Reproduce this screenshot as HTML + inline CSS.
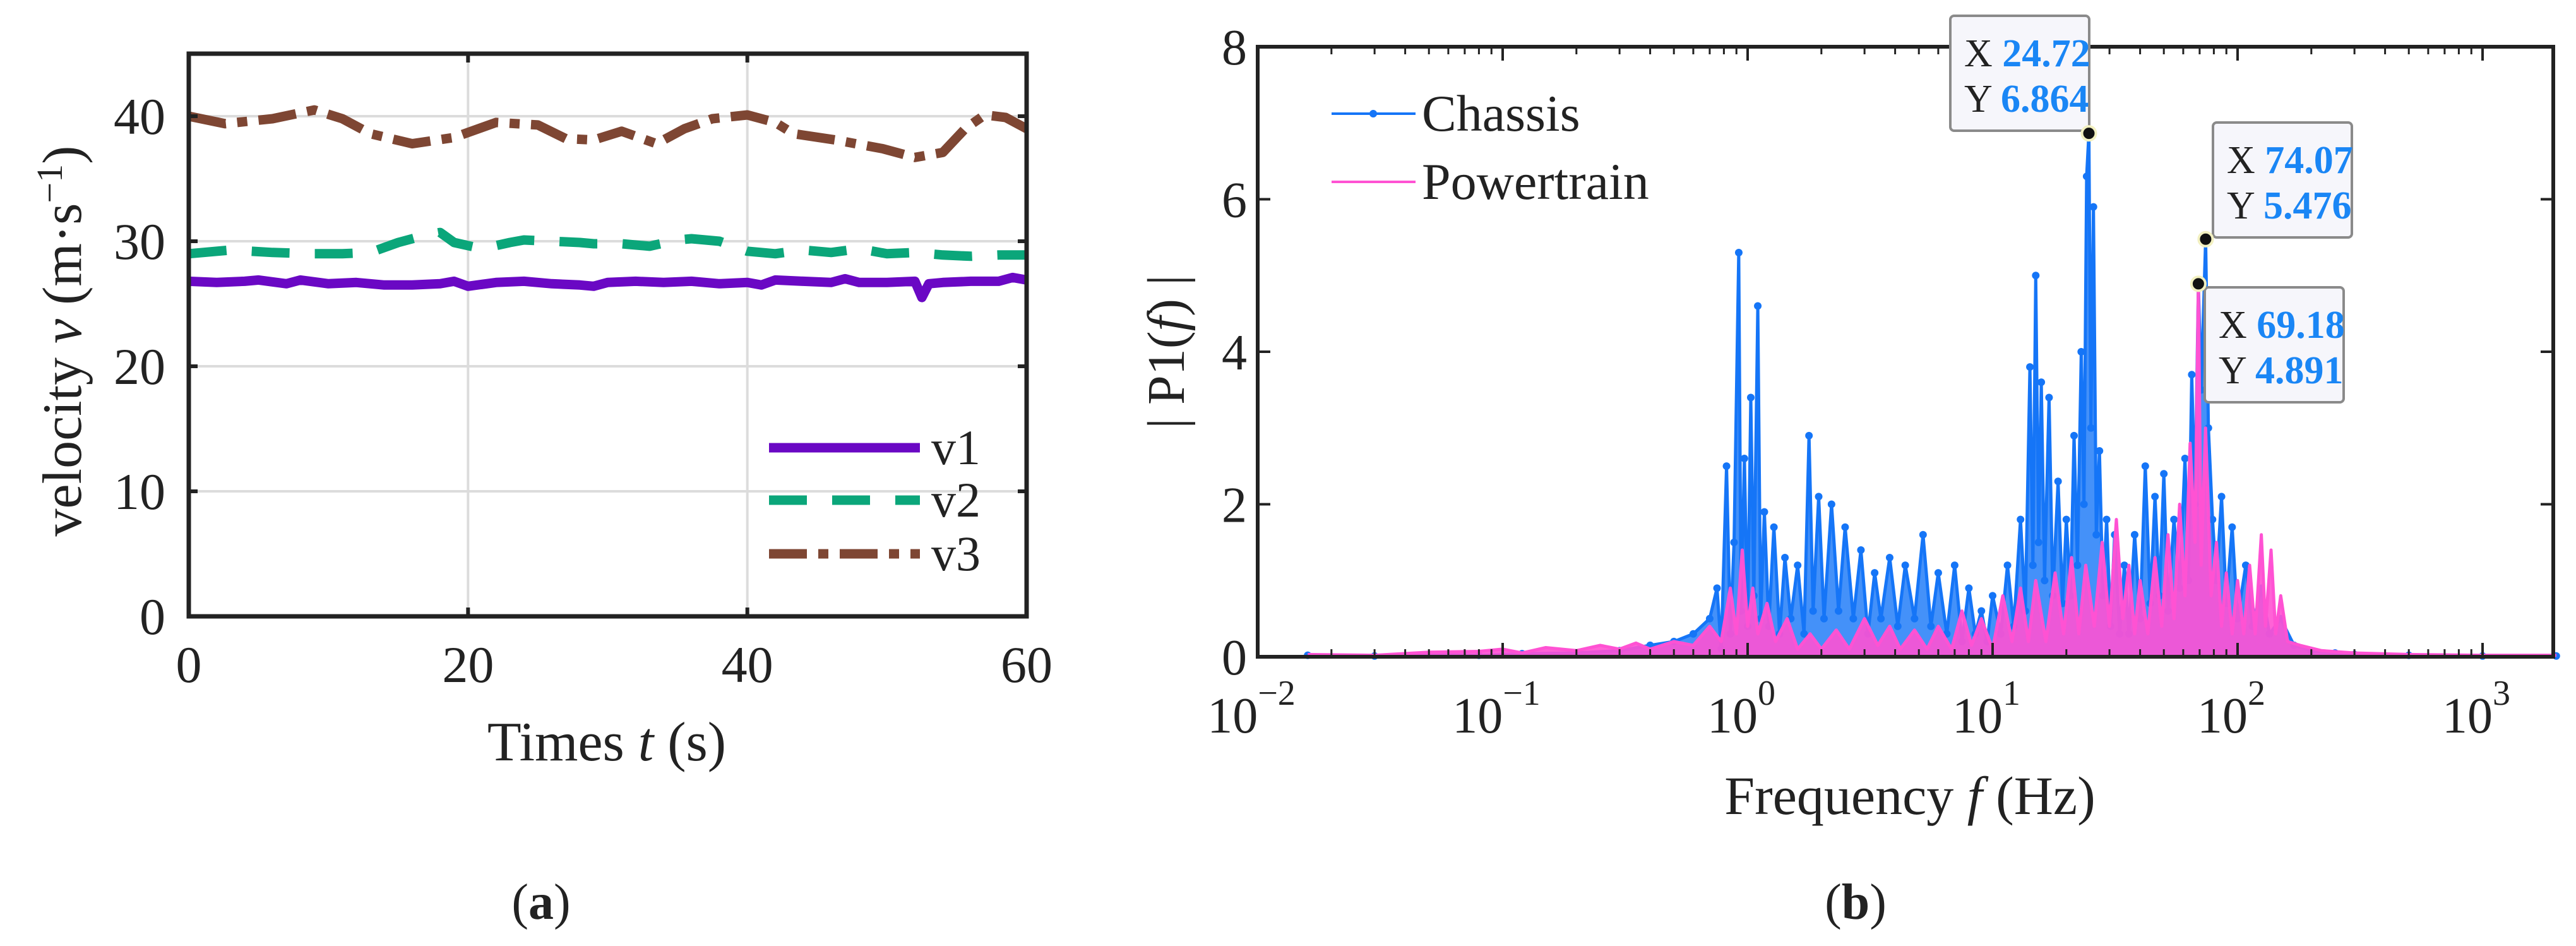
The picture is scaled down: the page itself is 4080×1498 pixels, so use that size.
<!DOCTYPE html>
<html><head><meta charset="utf-8"><style>
html,body{margin:0;padding:0;background:#fff;}
svg{display:block;font-family:"Liberation Serif",serif;}
</style></head><body>
<svg id="fig" width="4080" height="1498" viewBox="0 0 4080 1498" xmlns="http://www.w3.org/2000/svg">
<rect x="0" y="0" width="4080" height="1498" fill="#fff"/>
<g id="pa"></g>
<g id="pb"></g>
</svg>
<script>
// ---- panel (a) data ----
const vTicks = [0, 10, 20, 30, 40];
const tTicks = [0, 20, 40, 60];
const v1T = [0,2,4,5,7,8,10,12,14,16,18,19,20,22,24,26,28,29,30,32,34,36,38,40,41,42,44,46,47,48,50,52,52.5,53,54,56,58,59,60];
const v1V = [26.8,26.7,26.8,26.9,26.6,26.9,26.6,26.7,26.5,26.5,26.6,26.8,26.4,26.7,26.8,26.6,26.5,26.4,26.7,26.8,26.7,26.8,26.6,26.7,26.5,26.9,26.8,26.7,27.0,26.7,26.7,26.8,25.5,26.6,26.7,26.8,26.8,27.1,26.9];
const v2T = [0,3,6,9,11,13,15,17,18,19,21,23,24,26,28,29,31,33,35,36,38,40,42,44,46,48,50,52,54,56,58,60];
const v2V = [29.0,29.3,29.1,29.0,29.0,29.1,29.9,30.5,30.7,29.9,29.4,29.9,30.1,30.0,29.9,29.8,29.8,29.6,30.1,30.2,30.0,29.2,29.0,29.3,29.1,29.4,29.0,29.1,28.9,28.8,28.9,28.9];
const v3T = [0,2.6,6,9,11,13,16,19,22,25,27,29,31,33.5,35.5,37.5,40,42,43.3,46.3,49.7,52,54,55.6,57,58.5,60];
const v3V = [40.0,39.4,39.8,40.5,39.8,38.6,37.8,38.3,39.5,39.3,38.2,38.1,38.8,37.8,39.0,39.8,40.1,39.5,38.6,38.1,37.4,36.7,37.1,39.0,40.1,39.9,39.0];
// ---- panel (b) data ----
const fTickExp = [-2, -1, 0, 1, 2, 3];
const pTicks = [0, 2, 4, 6, 8];
const chF = [0.016,0.03,0.05,0.08,0.12,0.2,0.3,0.4,0.5,0.6,0.7,0.75,0.78,0.82,0.85,0.88,0.92,0.94,0.97,1.0,1.03,1.06,1.1,1.13,1.17,1.22,1.28,1.35,1.42,1.5,1.6,1.7,1.78,1.85,1.95,2.05,2.2,2.35,2.5,2.7,2.9,3.1,3.3,3.5,3.8,4.1,4.4,4.8,5.2,5.6,6.0,6.5,7.0,7.5,8.0,8.5,9.0,9.5,10,10.8,11.5,12.2,13,13.6,14.2,14.6,15.0,15.4,15.8,16.3,17,17.6,18.5,19.3,20,20.8,21.5,22.2,23,23.6,24.2,24.72,25.2,25.8,26.5,27.3,28.2,29.2,30.3,31.5,33,34.5,36,38,40,42,44,46,48,50,52,55,58,61,63,65,67,69.18,71,74.07,76,79,82,86,90,95,100,108,115,125,135,150,170,200,250,300,500,1000,2000];
const chA = [0.02,0.01,0.03,0.02,0.04,0.05,0.08,0.15,0.2,0.3,0.5,0.9,0.1,2.5,0.3,1.5,5.3,0.6,2.6,0.4,3.4,0.8,4.6,0.5,1.9,0.4,1.7,0.3,1.3,0.5,1.2,0.3,2.9,0.6,2.1,0.5,2.0,0.6,1.7,0.5,1.4,0.3,1.1,0.5,1.3,0.4,1.2,0.5,1.6,0.4,1.1,0.3,1.2,0.2,0.9,0.3,0.6,0.2,0.8,0.3,1.2,0.4,1.8,0.6,3.8,1.2,5.0,1.5,3.6,1.0,3.4,0.8,2.3,0.7,1.8,0.8,2.9,1.2,4.0,2.0,6.3,6.864,3.0,5.9,1.6,2.7,0.8,1.8,0.4,1.6,0.3,1.2,0.3,1.6,0.5,2.5,0.7,2.1,0.8,2.4,0.6,1.8,0.9,2.6,1.0,3.7,2.0,4.891,3.5,5.476,3.0,1.8,1.0,2.1,0.7,1.7,0.5,1.2,0.4,0.9,0.3,0.5,0.15,0.08,0.05,0.03,0.02,0.01,0.01];
const ptF = [0.016,0.03,0.05,0.08,0.1,0.12,0.15,0.2,0.25,0.3,0.35,0.4,0.5,0.6,0.7,0.78,0.85,0.9,0.95,1.0,1.05,1.1,1.2,1.3,1.45,1.6,1.8,2.0,2.3,2.6,3.0,3.4,3.8,4.2,4.8,5.4,6.0,6.8,7.5,8.2,9,10,11,12,13,14,15,16.5,18,19.5,21,22.5,24,26,28,30,32,34,36,38,40,43,46,49,52,55,58,61,64,67,69.18,71,74,78,82,86,90,95,100,106,112,118,125,130,137,143,150,160,180,220,300,500,1000,2000];
const ptA = [0.03,0.02,0.06,0.07,0.1,0.05,0.12,0.08,0.15,0.1,0.18,0.1,0.2,0.15,0.4,0.2,0.9,0.3,1.4,0.4,0.9,0.3,0.7,0.2,0.5,0.1,0.3,0.1,0.35,0.1,0.5,0.15,0.4,0.1,0.35,0.1,0.4,0.1,0.6,0.15,0.5,0.1,0.8,0.2,0.9,0.2,1.0,0.2,1.1,0.3,1.3,0.3,1.2,0.4,1.5,0.4,1.8,0.5,1.2,0.3,1.0,0.3,1.3,0.4,1.6,0.5,2.0,0.8,2.8,1.5,4.891,1.2,3.0,0.8,1.5,0.4,1.1,0.3,1.0,0.3,1.2,0.3,1.6,0.4,1.4,0.3,0.8,0.2,0.15,0.08,0.05,0.03,0.02,0.02];

const NS = "http://www.w3.org/2000/svg";
function mk(parent, tag, attrs, text) {
  const el = document.createElementNS(NS, tag);
  for (const k in attrs) el.setAttribute(k, attrs[k]);
  if (text !== undefined) el.textContent = text;
  parent.appendChild(el);
  return el;
}
const INK = "#222";

// ================= Panel (a) =================
const pa = document.getElementById("pa");
const aL = 299, aR = 1626, aT = 85, aB = 976;
const ax = t => aL + (t - 0) / 60 * (aR - aL);
const ay = v => aB - v / 45 * (aB - aT);
tTicks.forEach(t => {
  if (t > 0 && t < 60) {
    const g = mk(pa, "line", {x1: ax(t), x2: ax(t), y1: aT, y2: aB, stroke: "#dcdcdc", "stroke-width": 4});
    
    
  }
});
vTicks.forEach(v => {
  if (v > 0) {
    const g = mk(pa, "line", {x1: aL, x2: aR, y1: ay(v), y2: ay(v), stroke: "#dcdcdc", "stroke-width": 4});
    
    
  }
});
function seriesPath(ts, vs) {
  return ts.map((t, i) => (i ? "L" : "M") + ax(t).toFixed(1) + " " + ay(vs[i]).toFixed(1)).join(" ");
}
const s3 = mk(pa, "path", {d: seriesPath(v3T, v3V), fill: "none", stroke: "#7e4633", "stroke-width": 15, "stroke-dasharray": "60 18 16 18", "stroke-linejoin": "round"});


const s2 = mk(pa, "path", {d: seriesPath(v2T, v2V), fill: "none", stroke: "#0ba67a", "stroke-width": 15, "stroke-dasharray": "60 40", "stroke-linejoin": "round"});


const s1 = mk(pa, "path", {d: seriesPath(v1T, v1V), fill: "none", stroke: "#6a08c4", "stroke-width": 15, "stroke-linejoin": "round"});


const fa = mk(pa, "rect", {x: aL, y: aT, width: aR - aL, height: aB - aT, fill: "none", stroke: INK, "stroke-width": 7});


tTicks.forEach(t => {
  mk(pa, "line", {x1: ax(t), x2: ax(t), y1: aB, y2: aB - 14, stroke: INK, "stroke-width": 6});
  mk(pa, "line", {x1: ax(t), x2: ax(t), y1: aT, y2: aT + 14, stroke: INK, "stroke-width": 6});
  const l = mk(pa, "text", {x: ax(t), y: 1080, "text-anchor": "middle", "font-size": 82, fill: INK}, String(t));
  
  
});
vTicks.forEach(v => {
  mk(pa, "line", {x1: aL, x2: aL + 14, y1: ay(v), y2: ay(v), stroke: INK, "stroke-width": 6});
  mk(pa, "line", {x1: aR, x2: aR - 14, y1: ay(v), y2: ay(v), stroke: INK, "stroke-width": 6});
  const l = mk(pa, "text", {x: 262, y: ay(v) + 28, "text-anchor": "end", "font-size": 82, fill: INK}, String(v));
  
  
});
const xta = mk(pa, "text", {x: 961, y: 1204, "text-anchor": "middle", "font-size": 88, fill: INK});


xta.innerHTML = 'Times <tspan font-style="italic">t</tspan> (s)';
const yta = mk(pa, "text", {x: 0, y: 0, transform: "translate(128,540) rotate(-90)", "text-anchor": "middle", "font-size": 88, fill: INK});


yta.innerHTML = 'velocity <tspan font-style="italic">v</tspan> (m·s<tspan dy="-30" font-size="58">−1</tspan><tspan dy="30">)</tspan>';
const legA = [["v1", "#6a08c4", ""], ["v2", "#0ba67a", "60 40"], ["v3", "#7e4633", "60 18 16 18"]];
const legY = [709, 792, 877];
legA.forEach((e, i) => {
  const g = mk(pa, "g", {});
  
  
  const a = {x1: 1218, x2: 1457, y1: legY[i], y2: legY[i], stroke: e[1], "stroke-width": 15};
  if (e[2]) a["stroke-dasharray"] = e[2];
  mk(g, "line", a);
  mk(g, "text", {x: 1475, y: legY[i] + 26, "font-size": 78, fill: INK}, e[0]);
});
const capA = mk(pa, "text", {x: 857, y: 1455, "text-anchor": "middle", "font-size": 80, fill: INK});


capA.innerHTML = '(<tspan font-weight="bold">a</tspan>)';

// ================= Panel (b) =================
const pb = document.getElementById("pb");
const bL = 1992, bR = 4044, bT = 74, bB = 1040;
const DEC = 388;
const bx = f => bL + (Math.log10(f) + 2) * DEC;
const by = a => bB - a / 8 * (bB - bT);
function specPath(fs, as) {
  return fs.map((f, i) => (i ? "L" : "M") + bx(f).toFixed(1) + " " + by(as[i]).toFixed(1)).join(" ");
}
function areaPath(fs, as) {
  return specPath(fs, as) + " L" + bx(fs[fs.length - 1]).toFixed(1) + " " + by(0) + " L" + bx(fs[0]).toFixed(1) + " " + by(0) + " Z";
}
const ca = mk(pb, "path", {d: areaPath(chF, chA), fill: "#1575f7", "fill-opacity": 0.8, stroke: "none"});


const cl = mk(pb, "path", {d: specPath(chF, chA), fill: "none", stroke: "#1575f7", "stroke-width": 5, "stroke-linejoin": "round"});


const cm = mk(pb, "g", {fill: "#1575f7"});


chF.forEach((f, i) => { mk(cm, "circle", {cx: bx(f), cy: by(chA[i]), r: 6}); });
const pA = mk(pb, "path", {d: areaPath(ptF, ptA), fill: "#ff52d3", "fill-opacity": 0.9, stroke: "none"});


const pl = mk(pb, "path", {d: specPath(ptF, ptA), fill: "none", stroke: "#ff52d3", "stroke-width": 5, "stroke-linejoin": "round"});


const fb = mk(pb, "rect", {x: bL, y: bT, width: bR - bL, height: bB - bT, fill: "none", stroke: INK, "stroke-width": 6});


fTickExp.forEach(e => {
  const x = bx(Math.pow(10, e));
  mk(pb, "line", {x1: x, x2: x, y1: bB, y2: bB - 22, stroke: INK, "stroke-width": 4});
  mk(pb, "line", {x1: x, x2: x, y1: bT, y2: bT + 22, stroke: INK, "stroke-width": 4});
  for (let m = 2; m <= 9; m++) {
    const f = m * Math.pow(10, e);
    if (bx(f) < bR) {
      mk(pb, "line", {x1: bx(f), x2: bx(f), y1: bB, y2: bB - 12, stroke: INK, "stroke-width": 3});
      mk(pb, "line", {x1: bx(f), x2: bx(f), y1: bT, y2: bT + 12, stroke: INK, "stroke-width": 3});
    }
  }
  const l = mk(pb, "text", {x: x - 10, y: 1160, "text-anchor": "middle", "font-size": 80, fill: INK});
  
  
  l.innerHTML = '10<tspan dy="-44" font-size="56">' + (e < 0 ? "−" + (-e) : e) + '</tspan>';
});
pTicks.forEach(v => {
  mk(pb, "line", {x1: bL, x2: bL + 20, y1: by(v), y2: by(v), stroke: INK, "stroke-width": 4});
  mk(pb, "line", {x1: bR, x2: bR - 20, y1: by(v), y2: by(v), stroke: INK, "stroke-width": 4});
  const l = mk(pb, "text", {x: 1975, y: by(v) + 28, "text-anchor": "end", "font-size": 80, fill: INK}, String(v));
  
  
});
const xtb = mk(pb, "text", {x: 3025, y: 1289, "text-anchor": "middle", "font-size": 86, fill: INK});


xtb.innerHTML = 'Frequency <tspan font-style="italic">f</tspan> (Hz)';
const ytb = mk(pb, "text", {x: 0, y: 0, transform: "translate(1875,557) rotate(-90)", "text-anchor": "middle", "font-size": 84, fill: INK});


ytb.innerHTML = '| P1(<tspan font-style="italic">f</tspan>) |';
const legB = [["Chassis", "#1575f7", 180, true], ["Powertrain", "#ff52d3", 288, false]];
legB.forEach(e => {
  const g = mk(pb, "g", {});
  
  
  mk(g, "line", {x1: 2109, x2: 2242, y1: e[2], y2: e[2], stroke: e[1], "stroke-width": 4});
  if (e[3]) mk(g, "circle", {cx: 2175, cy: e[2], r: 6, fill: e[1]});
  mk(g, "text", {x: 2252, y: e[2] + 27, "font-size": 82, fill: INK}, e[0]);
});
const tipX = [24.72, 74.07, 69.18];
const tipY = [6.864, 5.476, 4.891];
const tipBox = [[3089, 25], [3505, 194], [3492, 455]];
tipX.forEach((f, i) => {
  const g = mk(pb, "g", {});
  
  
  const bx0 = tipBox[i][0], by0 = tipBox[i][1];
  mk(g, "rect", {x: bx0, y: by0, width: 220, height: 182, rx: 6, fill: "#f6f6fb", stroke: "#8a8a8a", "stroke-width": 4});
  const t1 = mk(g, "text", {x: bx0 + 22, y: by0 + 80, "font-size": 62, fill: INK});
  t1.innerHTML = 'X <tspan fill="#1a86f5" font-weight="bold">' + f.toFixed(2) + '</tspan>';
  const t2 = mk(g, "text", {x: bx0 + 22, y: by0 + 152, "font-size": 62, fill: INK});
  t2.innerHTML = 'Y <tspan fill="#1a86f5" font-weight="bold">' + tipY[i].toFixed(3) + '</tspan>';
  mk(g, "circle", {cx: bx(f), cy: by(tipY[i]), r: 11, fill: "#111", stroke: "#f2f0c0", "stroke-width": 4});
});
const capB = mk(pb, "text", {x: 2939, y: 1455, "text-anchor": "middle", "font-size": 80, fill: INK});


capB.innerHTML = '(<tspan font-weight="bold">b</tspan>)';
</script>
</body></html>
